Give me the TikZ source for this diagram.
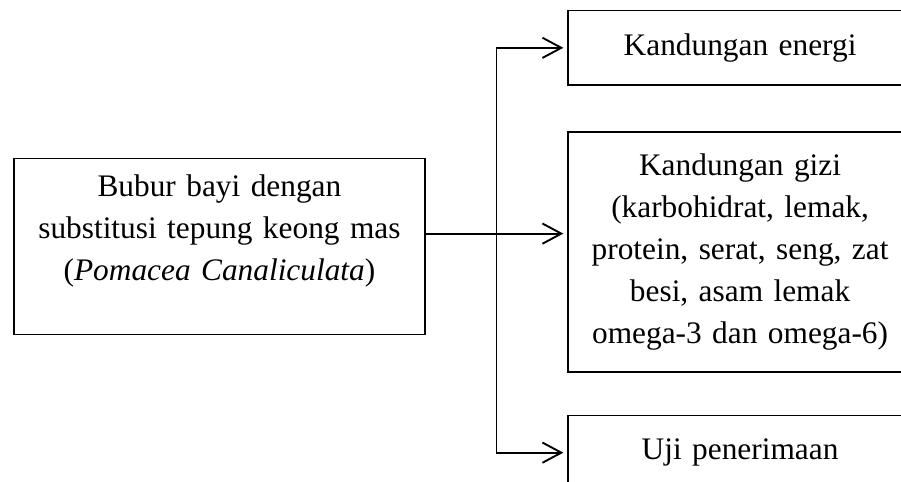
\documentclass[tikz,border=0pt]{standalone}
\usepackage{fontspec}
\setmainfont{Liberation Serif}
\usetikzlibrary{arrows.meta, positioning, calc}

\begin{document}
\begin{tikzpicture}[
                x=1pt, y=1pt,
                box/.style={draw, line width=0.5pt, align=center, inner sep=0pt, font=\fontsize{11.6}{15.6}\selectfont},
                arrow/.style={-{Straight Barb[length=7pt, width=7.5pt]}, line width=0.7pt, shorten >=1.5pt}
            ]
                \useasboundingbox (0,0) rectangle (333.4,-178.3);
                \clip (0,0) rectangle (333.4,-178.3);
                \node[box, anchor=north, text width=140pt, minimum width=152pt, text height=13.8pt, text depth=51.3pt] (bubur) at (81.2,-58.5)
                    {Bubur bayi dengan\\ substitusi tepung keong mas\\ (\textit{Pomacea Canaliculata})};
                \node[box, text width=120pt, minimum width=127.3pt, minimum height=88.8pt] (gizi) [right=52.5pt of bubur, yshift=-2pt]
                    {Kandungan gizi\\ (karbohidrat, lemak,\\ protein, serat, seng, zat\\ besi, asam lemak\\ omega-3 dan omega-6)};
                \node[box, text width=120pt, minimum width=127.3pt, minimum height=27.4pt] (energi) [above=17pt of gizi] {Kandungan energi};
                \node[box, text width=120pt, minimum width=127.3pt, minimum height=27.4pt] (uji) [below=15.6pt of gizi] {Uji penerimaan};
                
                \coordinate (pangkal) at ([yshift=4.85pt]bubur.east);
                \coordinate (cabang) at ($(pangkal)!0.5!(pangkal -| gizi.west)$);
                \draw[arrow] (pangkal) -- (pangkal -| gizi.west);
                \draw[arrow] (cabang) |- (energi);
                \draw[arrow] (cabang) |- (uji);
            \end{tikzpicture}
\end{document}
